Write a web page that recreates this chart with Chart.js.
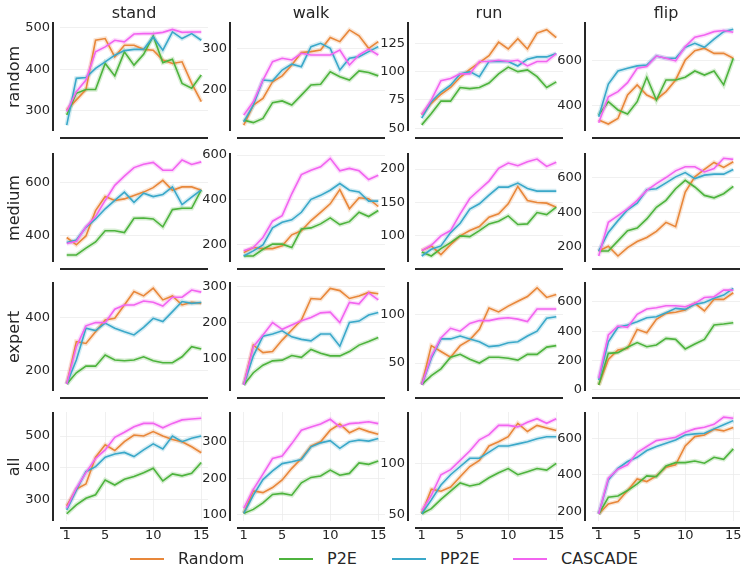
<!DOCTYPE html>
<html>
<head>
<meta charset="utf-8">
<script src="https://cdn.jsdelivr.net/npm/chart.js@4.4.0/dist/chart.umd.min.js"></script>
<style>
  body { margin: 0; width: 748px; height: 580px; background: #fff; position: relative; overflow: hidden;
         font-family: "DejaVu Sans", sans-serif; color: #262626; }
  canvas { position: absolute; }
  .title { position: absolute; top: 5px; font-size: 16px; line-height: 16px; transform: translateX(-50%); white-space: nowrap; }
  .rowlab { position: absolute; left: 14px; font-size: 16px; line-height: 16px; white-space: nowrap;
            transform: translate(-50%, -50%) rotate(-90deg); }
  .item { position: absolute; top: 551px; height: 16px; line-height: 16px; font-size: 16px; display: flex; align-items: center; white-space: nowrap; }
  .item span.sw { display: inline-block; width: 34px; height: 2px; margin-right: 14px; }
</style>
</head>
<body>
<script>
// series / grid labels
const methods = ["Random", "P2E", "PP2E", "CASCADE"];
const envs = ["stand", "walk", "run", "flip"];
const sources = ["random", "medium", "expert", "all"];
const steps = [1, 2, 3, 4, 5, 6, 7, 8, 9, 10, 11, 12, 13, 14, 15];
const xTicks = [1, 5, 10, 15];

// values per panel, in order Random, P2E, PP2E, CASCADE
const randomStand = [
  [302, 326, 351, 470, 474, 430, 458, 458, 448, 446, 422, 414, 418, 366, 322],
  [290, 342, 351, 351, 414, 384, 442, 410, 436, 480, 416, 424, 366, 354, 386],
  [265, 378, 380, 402, 418, 434, 445, 448, 448, 478, 446, 490, 474, 486, 470],
  [298, 346, 374, 442, 454, 470, 466, 485, 486, 486, 489, 496, 489, 490, 490],
];
const randomWalk = [
  [116, 164, 180, 220, 234, 260, 290, 292, 296, 326, 316, 344, 330, 300, 316],
  [128, 122, 132, 170, 174, 164, 188, 212, 214, 244, 232, 224, 246, 242, 234],
  [124, 164, 224, 222, 248, 262, 256, 304, 312, 300, 248, 276, 280, 292, 304],
  [140, 172, 224, 268, 276, 272, 288, 284, 284, 284, 296, 260, 284, 298, 284],
];
const randomRun = [
  [62, 72, 80, 86, 95, 102, 108, 114, 126, 120, 129, 120, 134, 137, 130],
  [53, 63, 74, 74, 86, 85, 86, 90, 98, 104, 100, 101.5, 95.6, 86, 91],
  [59, 73.5, 82, 88, 98, 100, 95.6, 109, 109, 109, 105, 111, 113, 113, 116],
  [62, 75, 92, 94, 98, 98, 109, 109, 110, 109, 110, 105, 109, 109, 116],
];
const randomFlip = [
  [336, 318, 343, 448, 493, 448, 428, 463, 515, 604, 646, 657, 634, 634, 612],
  [358, 418, 381, 363, 418, 527, 425, 515, 515, 527, 555, 537, 555, 493, 612],
  [351, 497, 555, 567, 578, 582, 622, 612, 612, 661, 679, 661, 697, 731, 742],
  [324, 440, 463, 503, 567, 575, 622, 612, 600, 664, 706, 716, 731, 736, 728],
];
const mediumStand = [
  [391, 363, 397, 494, 548, 533, 539, 552, 565, 582, 610, 572, 585, 585, 572],
  [324, 324, 350, 374, 417, 417, 410, 465, 466, 462, 432, 498, 503, 503, 574],
  [372, 381, 430, 462, 501, 533, 565, 526, 561, 548, 556, 585, 517, 546, 574],
  [368, 376, 432, 471, 533, 591, 626, 659, 672, 679, 649, 649, 688, 671, 681],
];
const mediumWalk = [
  [162, 185, 180, 180, 193, 242, 260, 306, 343, 381, 445, 359, 408, 404, 369],
  [147, 147, 177, 200, 200, 185, 268, 273, 291, 318, 288, 301, 343, 324, 351],
  [147, 170, 197, 273, 298, 309, 343, 401, 419, 442, 472, 442, 434, 393, 393],
  [170, 185, 230, 303, 328, 426, 512, 532, 547, 585, 529, 540, 529, 490, 509],
];
const mediumRun = [
  [78, 85, 72, 87, 100, 108, 114, 128, 133, 148, 174, 153, 150, 149, 143],
  [76, 70, 81, 90, 100, 99, 108, 118, 122, 130, 117, 118, 135, 132, 143],
  [70, 80, 85, 105, 119, 140, 148, 161, 173, 173, 179, 171, 167, 167, 167],
  [78, 86, 100, 108, 133, 156, 169, 182, 201, 209, 205, 211, 215, 204, 210],
];
const mediumFlip = [
  [174, 202, 145, 194, 229, 253, 288, 341, 316, 518, 606, 649, 690, 661, 694],
  [174, 174, 233, 292, 308, 361, 429, 469, 537, 586, 547, 498, 484, 508, 551],
  [174, 282, 351, 414, 453, 531, 537, 571, 606, 631, 596, 616, 622, 622, 649],
  [145, 341, 380, 420, 469, 527, 567, 602, 641, 665, 665, 635, 655, 714, 708],
];
const expertStand = [
  [150, 309, 302, 346, 390, 396, 446, 496, 480, 509, 465, 480, 446, 456, 452],
  [150, 192, 217, 217, 259, 240, 237, 240, 252, 237, 230, 230, 252, 290, 281],
  [150, 240, 359, 350, 378, 359, 346, 334, 362, 396, 384, 421, 459, 452, 455],
  [150, 290, 368, 380, 380, 430, 446, 446, 461, 456, 442, 475, 475, 502, 494],
];
const expertWalk = [
  [26, 137, 116, 119, 151, 179, 207, 267, 265, 295, 289, 267, 274, 284, 280],
  [26, 60, 81, 93, 95, 108, 103, 125, 114, 107, 107, 119, 137, 147, 158],
  [26, 107, 162, 168, 177, 160, 153, 149, 168, 168, 134, 200, 204, 221, 228],
  [26, 133, 165, 200, 181, 193, 205, 214, 227, 229, 200, 256, 252, 283, 263],
];
const expertRun = [
  [27.6, 68, 62, 56, 68, 74, 85, 107, 103, 109, 114, 119, 128, 118, 121],
  [27.6, 37, 44, 56, 59, 54, 50, 56, 56, 55, 53, 59, 59, 66.5, 68],
  [27.6, 55, 75, 75, 78, 75, 72, 67, 68, 71, 72, 78, 83, 96.5, 98],
  [27.6, 57, 76, 86, 83, 91, 94, 94, 96, 97, 95.5, 93, 106, 106, 106],
];
const expertFlip = [
  [34, 208, 272, 283, 412, 389, 480, 521, 528, 543, 589, 537, 616, 616, 661],
  [34, 249, 254, 290, 322, 294, 306, 351, 344, 279, 312, 344, 442, 448, 457],
  [68, 328, 426, 442, 464, 491, 498, 525, 555, 548, 582, 595, 623, 645, 691],
  [79, 374, 435, 426, 514, 550, 559, 573, 573, 566, 589, 629, 634, 679, 679],
];
const allStand = [
  [279, 332, 348, 433, 472, 454, 482, 503, 500, 514, 500, 489, 482, 466, 447],
  [254, 282, 303, 314, 361, 345, 363, 372, 384, 398, 358, 380, 374, 382, 416],
  [266, 329, 387, 403, 433, 443, 448, 435, 456, 475, 459, 500, 482, 493, 500],
  [272, 335, 384, 429, 456, 496, 512, 529, 540, 540, 526, 540, 551, 554, 556],
];
const allWalk = [
  [103, 165, 160, 174, 195, 227, 254, 288, 300, 332, 349, 325, 337, 328, 321],
  [103, 114, 132, 155, 158, 153, 187, 202, 206, 222, 208, 213, 242, 238, 247],
  [103, 153, 196, 220, 240, 245, 251, 286, 297, 303, 282, 300, 305, 302, 309],
  [117, 169, 211, 254, 261, 295, 332, 341, 349, 362, 341, 350, 352, 355, 350],
];
const allRun = [
  [51, 75, 73, 77, 87, 97, 103, 117, 121, 126, 139, 131, 137, 134.5, 132],
  [51, 56, 65, 73, 81, 78, 80, 86, 91, 95, 89, 92, 95, 93.5, 100],
  [51, 64.5, 79, 89, 97, 105, 105, 111, 117, 117, 119, 121, 124, 126, 126],
  [54, 69, 89, 94, 103, 112, 123, 128, 137, 137, 135.5, 140, 143.5, 139, 143.5],
];
const allFlip = [
  [187, 242, 255, 315, 378, 364, 395, 442, 455, 558, 609, 618, 649, 640, 658],
  [187, 278, 285, 315, 351, 395, 391, 449, 467, 467, 476, 464, 496, 485, 542],
  [187, 373, 436, 473, 496, 533, 555, 573, 591, 618, 624, 627, 651, 673, 696],
  [187, 382, 431, 455, 522, 555, 587, 596, 605, 633, 651, 660, 676, 715, 709],
];

// y tick labels per row (stand, walk, run, flip)
const yTicksRandom = [[300, 400, 500], [200, 300], [50, 75, 100, 125], [400, 600]];
const yTicksMedium = [[400, 600], [200, 400, 600], [100, 150, 200], [200, 400, 600]];
const yTicksExpert = [[200, 400], [100, 200, 300], [50, 100], [0, 200, 400, 600]];
const yTicksAll = [[300, 400, 500], [100, 200, 300], [50, 100], [200, 400, 600]];

const panels = [
  [randomStand, randomWalk, randomRun, randomFlip],
  [mediumStand, mediumWalk, mediumRun, mediumFlip],
  [expertStand, expertWalk, expertRun, expertFlip],
  [allStand, allWalk, allRun, allFlip],
];
const yTicks = [yTicksRandom, yTicksMedium, yTicksExpert, yTicksAll];

// axis limits and layout
const yLimits = [
  [[251, 514], [102, 363], [47.6, 143.8], [287, 774]],
  [[297, 715], [120, 609], [61, 224], [110, 745]],
  [[124, 532], [9, 313], [21, 134], [-7, 734]],
  [[231, 576], [82, 382], [44, 150], [149, 743]],
];
const colLeft = [60, 237, 415, 592];
const rowTop = [22, 153, 282, 412];
const plotW = 148, plotH = 109;
const colors = ["#E8873A", "#4DB33D", "#3AA8C9", "#F264F0"];
const bands = ["rgba(232,135,58,0.22)", "rgba(77,179,61,0.22)", "rgba(58,168,201,0.22)", "rgba(242,100,240,0.22)"];

Chart.defaults.font.family = "'DejaVu Sans', sans-serif";
Chart.defaults.color = "#262626";

// offset spines, seaborn despine(offset) look
const spines = {
  id: "spines",
  afterDraw(chart) {
    const { ctx, chartArea: a } = chart;
    ctx.save();
    ctx.strokeStyle = "#262626";
    ctx.lineWidth = 2;
    ctx.beginPath();
    ctx.moveTo(a.left - 7, a.top);
    ctx.lineTo(a.left - 7, a.bottom);
    ctx.moveTo(a.left, a.bottom + 7);
    ctx.lineTo(a.right, a.bottom + 7);
    ctx.stroke();
    ctx.restore();
  },
};

function makeChart(r, c) {
  const cv = document.createElement("canvas");
  cv.width = 50 + plotW + 8;
  cv.height = 12 + plotH + 26;
  cv.style.left = (colLeft[c] - 50) + "px";
  cv.style.top = (rowTop[r] - 12) + "px";
  document.body.appendChild(cv);

  const series = panels[r][c];
  const datasets = [];
  methods.forEach((m, i) => {
    const pts = steps.map((s, k) => ({ x: s, y: series[i][k] }));
    datasets.push({ label: m, data: pts, borderColor: colors[i], borderWidth: 1.6, order: 3 - i });
    datasets.push({ label: m + " band", data: pts, borderColor: bands[i], borderWidth: 4.5, order: 10 + 3 - i });
  });

  const bottom = r === 3;
  new Chart(cv, {
    type: "line",
    data: { datasets },
    plugins: [spines],
    options: {
      responsive: false,
      animation: false,
      layout: { padding: { top: 12, right: 8, left: 0, bottom: 0 } },
      elements: { point: { radius: 0 }, line: { tension: 0, fill: false } },
      plugins: { legend: { display: false }, tooltip: { enabled: false } },
      scales: {
        x: {
          type: "linear",
          min: 0.3,
          max: 15.7,
          border: { display: false },
          grid: { display: bottom, color: "#ececec", lineWidth: 0.8, drawTicks: false },
          ticks: { display: bottom, padding: 7, font: { size: 13 }, callback: v => String(v) },
          afterBuildTicks: s => { s.ticks = xTicks.map(v => ({ value: v })); },
          afterFit: s => { s.height = 26; s.paddingLeft = 0; s.paddingRight = 0; },
        },
        y: {
          min: yLimits[r][c][0],
          max: yLimits[r][c][1],
          border: { display: false },
          grid: { color: "#ececec", lineWidth: 0.8, drawTicks: false },
          ticks: { padding: 10, font: { size: 13 }, callback: v => String(v) },
          afterBuildTicks: s => { s.ticks = yTicks[r][c].map(v => ({ value: v })); },
          afterFit: s => { s.width = 50; s.paddingTop = 0; s.paddingBottom = 0; },
        },
      },
    },
  });
}

for (let r = 0; r < 4; r++) for (let c = 0; c < 4; c++) makeChart(r, c);

// column titles and row labels
envs.forEach((e, c) => {
  const d = document.createElement("div");
  d.className = "title";
  d.textContent = e;
  d.style.left = (colLeft[c] + plotW / 2) + "px";
  document.body.appendChild(d);
});
sources.forEach((s, r) => {
  const d = document.createElement("div");
  d.className = "rowlab";
  d.textContent = s;
  d.style.top = (rowTop[r] + plotH / 2) + "px";
  document.body.appendChild(d);
});

// legend
const legendLeft = [130, 279, 392, 513];
methods.forEach((m, i) => {
  const d = document.createElement("div");
  d.className = "item";
  d.style.left = legendLeft[i] + "px";
  const sw = document.createElement("span");
  sw.className = "sw";
  sw.style.backgroundColor = colors[i];
  d.appendChild(sw);
  d.appendChild(document.createTextNode(m));
  document.body.appendChild(d);
});
</script>
</body>
</html>
